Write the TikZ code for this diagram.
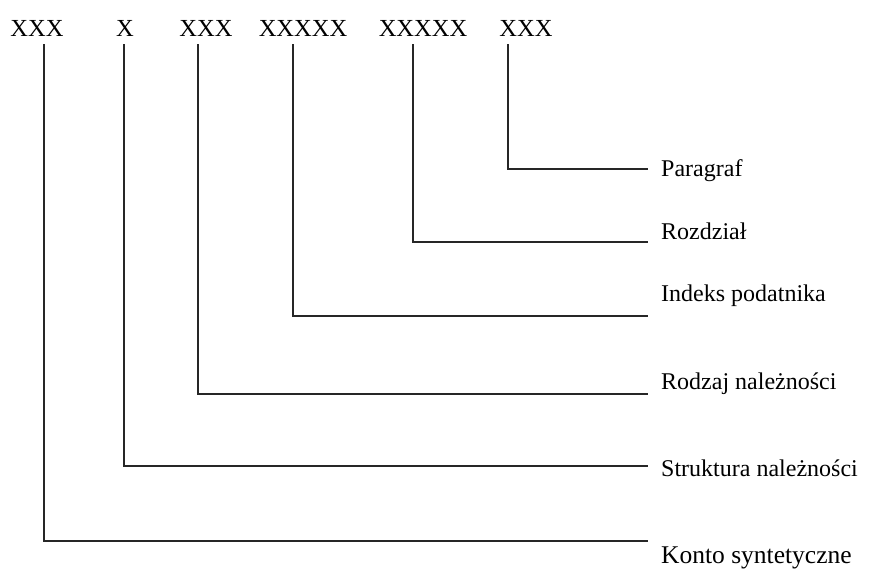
\documentclass[tikz,border=0pt]{standalone}
\usepackage{fontspec}
\setmainfont{Liberation Serif}
\usetikzlibrary{positioning}

\begin{document}
\begin{tikzpicture}[
  x=1pt, y=-1pt,
  code/.style={
    font=\fontsize{24.5}{25}\selectfont,
    inner sep=0pt,
    anchor=base
  },
  field/.style={
    font=\fontsize{24}{24}\selectfont,
    inner sep=0pt,
    anchor=base west
  },
  link/.style={line width=1.2pt, black!85}
]
\useasboundingbox (0,0) rectangle (879,571);

% Code groups
\node[code] (cKonto)  at (37,36)  {XXX};
\node[code] (cStrukt) at (125,36) {X};
\node[code] (cRodzaj) at (206,36) {XXX};
\node[code] (cIndeks) at (303,36) {XXXXX};
\node[code] (cRozdz)  at (423,36) {XXXXX};
\node[code] (cPar)    at (526,36) {XXX};

% Line ends
\coordinate (ePar)    at (648,169);
\coordinate (eRozdz)  at (648,242);
\coordinate (eIndeks) at (648,316);
\coordinate (eRodzaj) at (648,394);
\coordinate (eStrukt) at (648,466);
\coordinate (eKonto)  at (648,541);

% Field names
\node[field] (fPar)    at (661,176) {Paragraf};
\node[field] (fRozdz)  at (661,239) {Rozdział};
\node[field] (fIndeks) at (661,301) {Indeks podatnika};
\node[field] (fRodzaj) at (661,389) {Rodzaj należności};
\node[field] (fStrukt) at (661,476) {Struktura należności};
\node[field,font=\fontsize{25.5}{25}\selectfont] (fKonto) at (661,563) {Konto syntetyczne};

% Connectors
\draw[link] (cPar.south)    ++(-18,8) |- (ePar);
\draw[link] (cRozdz.south)  ++(-10,8) |- (eRozdz);
\draw[link] (cIndeks.south) ++(-10,8) |- (eIndeks);
\draw[link] (cRodzaj.south) ++(-8,8)  |- (eRodzaj);
\draw[link] (cStrukt.south) ++(-1,8)  |- (eStrukt);
\draw[link] (cKonto.south)  ++(7,8)   |- (eKonto);

\end{tikzpicture}
\end{document}
